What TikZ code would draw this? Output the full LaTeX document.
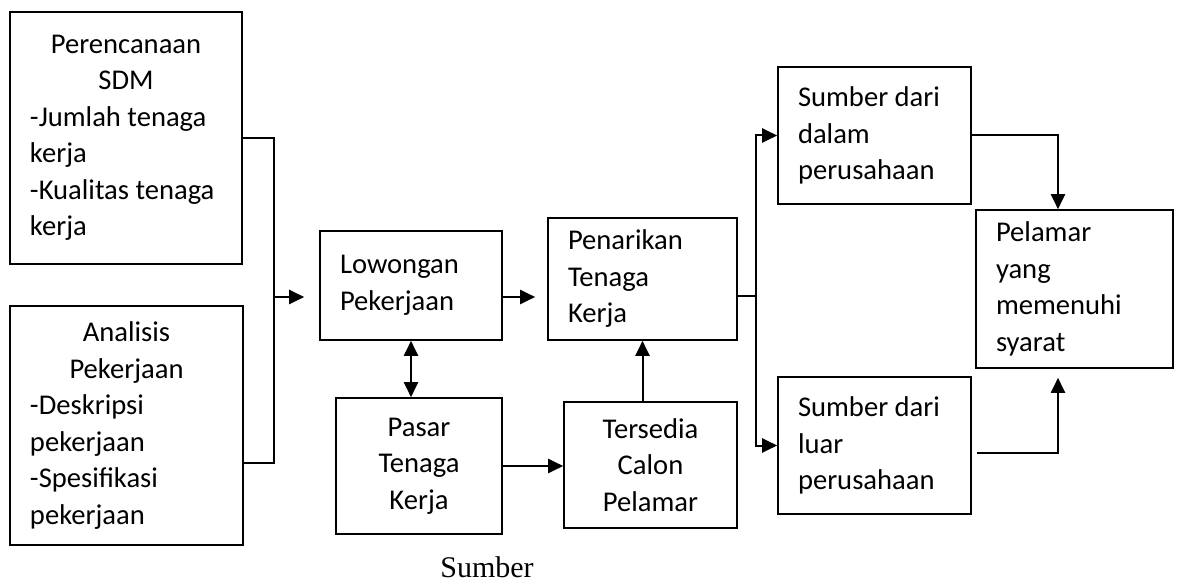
\documentclass[tikz,border=0pt]{standalone}
\usepackage{fontspec}
\setmainfont{Carlito}
\newfontfamily\capfont{Liberation Serif}
\usetikzlibrary{arrows.meta}

\begin{document}
\begin{tikzpicture}[x=0.5pt, y=-0.5pt,
  blok/.style={draw, line width=0.8pt, rectangle, inner xsep=10pt,
    font=\fontsize{14.3}{18.25}\selectfont},
  kiri/.style={blok, align=flush left},
  tengah/.style={blok, align=center},
  arr/.style={line width=1pt, -{Triangle[length=7.5pt, width=7pt]}},
  arr2/.style={line width=1pt, {Triangle[length=7.5pt, width=7pt]}-{Triangle[length=7.5pt, width=7pt]}},
  garis/.style={line width=0.9pt}]
    \useasboundingbox (0,0) rectangle (1179,583);

    % Input boxes
    \node [kiri, minimum width=116pt, minimum height=126pt, text width=96pt]
          (perencanaan) at (126,138)
          {\makebox[96pt]{Perencanaan}\\ \makebox[96pt]{SDM}\\ -Jumlah tenaga\\ kerja\\ -Kualitas tenaga\\ kerja};
    \node [kiri, minimum width=116.5pt, minimum height=119.5pt, text width=96.5pt]
          (analisis) at (126.5,425.5)
          {\makebox[96.5pt]{Analisis}\\ \makebox[96.5pt]{Pekerjaan}\\ -Deskripsi\\ pekerjaan\\ -Spesifikasi\\ pekerjaan};

    % Middle boxes
    \node [kiri, minimum width=91pt, minimum height=54.5pt, text width=71pt]
          (lowongan) at (411,285.5) {Lowongan\\ Pekerjaan};
    \node [tengah, minimum width=83pt, minimum height=68pt]
          (pasar) at (419,466) {Pasar\\ Tenaga\\ Kerja};
    \node [kiri, minimum width=94.5pt, minimum height=61pt, text width=74.5pt]
          (penarikan) at (642.5,279) {Penarikan\\ Tenaga\\ Kerja};
    \node [tengah, minimum width=86.5pt, minimum height=63pt]
          (tersedia) at (650.5,465) {Tersedia\\ Calon\\ Pelamar};

    % Sources and result
    \node [kiri, minimum width=96.5pt, minimum height=68.5pt, text width=76.5pt]
          (dalam) at (874.5,135.5) {Sumber dari\\ dalam\\ perusahaan};
    \node [kiri, minimum width=96.5pt, minimum height=68.5pt, text width=76.5pt]
          (luar) at (874.5,445.5) {Sumber dari\\ luar\\ perusahaan};
    \node [kiri, minimum width=98.5pt, minimum height=79pt, text width=78.5pt]
          (pelamar) at (1074.5,289) {Pelamar\\ yang\\ memenuhi\\ syarat};

    \node [font=\capfont\fontsize{15}{18}\selectfont, anchor=base]
          (sumber) at (487,577) {Sumber};

    % Connections
    \coordinate (gabung) at (274,297);
    \coordinate (gabungbawah) at (274,463);
    \coordinate (cabang) at (756,296);
    \coordinate (turun) at (1058,290);
    \coordinate (luarkeluar) at (977,453);

    \draw [garis] (perencanaan.east) -| (gabungbawah) -- (analisis.east |- gabungbawah);
    \draw [arr, shorten >=7.5pt] (gabung) -- (gabung -| lowongan.west);
    \draw [arr, shorten >=6pt] (lowongan.east |- gabung) -- (penarikan.west |- gabung);
    \draw [arr2] (lowongan.south) -- (lowongan.south |- pasar.north);
    \draw [arr] (pasar.east) -- (pasar.east -| tersedia.west);
    \draw [arr] (penarikan.south |- tersedia.north) -- (penarikan.south);

    \draw [garis] (penarikan.east |- cabang) -- (cabang);
    \draw [arr] (cabang) |- (dalam.west);
    \draw [arr] (cabang) |- (luar.west);

    \draw [arr] (dalam.east) -| (turun |- pelamar.north);
    \draw [arr, shorten >=4.5pt] (luarkeluar) -| (turun |- pelamar.south);
\end{tikzpicture}
\end{document}
